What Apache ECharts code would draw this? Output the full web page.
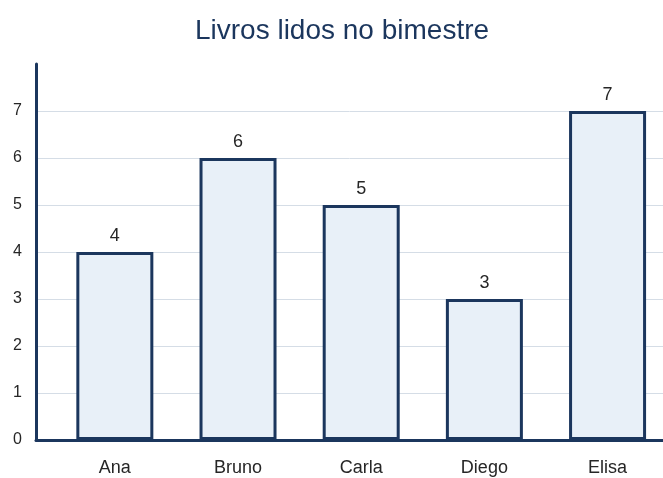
<!DOCTYPE html>
<html><head><meta charset="utf-8">
<script src="https://cdn.jsdelivr.net/npm/echarts@6/dist/echarts.min.js"></script>
<style>html,body{margin:0;padding:0;background:#fff}#c{width:663px;height:478px}</style>
</head><body><div id="c"></div>
<script>
const categories = ['Ana', 'Bruno', 'Carla', 'Diego', 'Elisa'];
const books = [4, 6, 5, 3, 7];
const yTicks = [0, 1, 2, 3, 4, 5, 6, 7];
const positions = [0, 1, 2, 3, 4];

const navy = '#1b365d';
const chart = echarts.init(document.getElementById('c'));
chart.setOption({
  animation: false,
  title: {
    text: 'Livros lidos no bimestre',
    left: 337, top: 12, textAlign: 'center',
    textStyle: { fontFamily: 'Liberation Sans', fontSize: 28, fontWeight: 'normal', color: navy }
  },
  grid: { left: 36, right: 0, top: 64, bottom: 38, containLabel: false },
  xAxis: {
    type: 'value', min: -0.64, max: 4.45,
    axisLine: { show: true, onZero: false, lineStyle: { color: navy, width: 3 } },
    axisTick: { show: false },
    splitLine: { show: false },
    axisLabel: {
      customValues: positions,
      formatter: v => categories[Math.round(v)],
      margin: 19, fontFamily: 'Liberation Sans', fontSize: 18, color: '#262626'
    }
  },
  yAxis: {
    type: 'value', min: 0, max: 8,
    axisLine: { show: true, onZero: false, lineStyle: { color: navy, width: 3 } },
    axisTick: { show: false, customValues: yTicks },
    axisLabel: { customValues: yTicks, margin: 14, fontFamily: 'Liberation Sans', fontSize: 16, color: '#262626' },
    splitLine: { show: true, lineStyle: { color: '#d5dde6', width: 1 } }
  },
  series: [{
    type: 'bar',
    data: books.map((v, i) => [positions[i], v]),
    barWidth: 77,
    itemStyle: { color: '#e8f0f8', borderColor: navy, borderWidth: 3 },
    label: { show: true, position: 'top', distance: 7, formatter: p => p.value[1],
      fontFamily: 'Liberation Sans', fontSize: 18, color: '#262626' }
  }]
});
</script></body></html>
